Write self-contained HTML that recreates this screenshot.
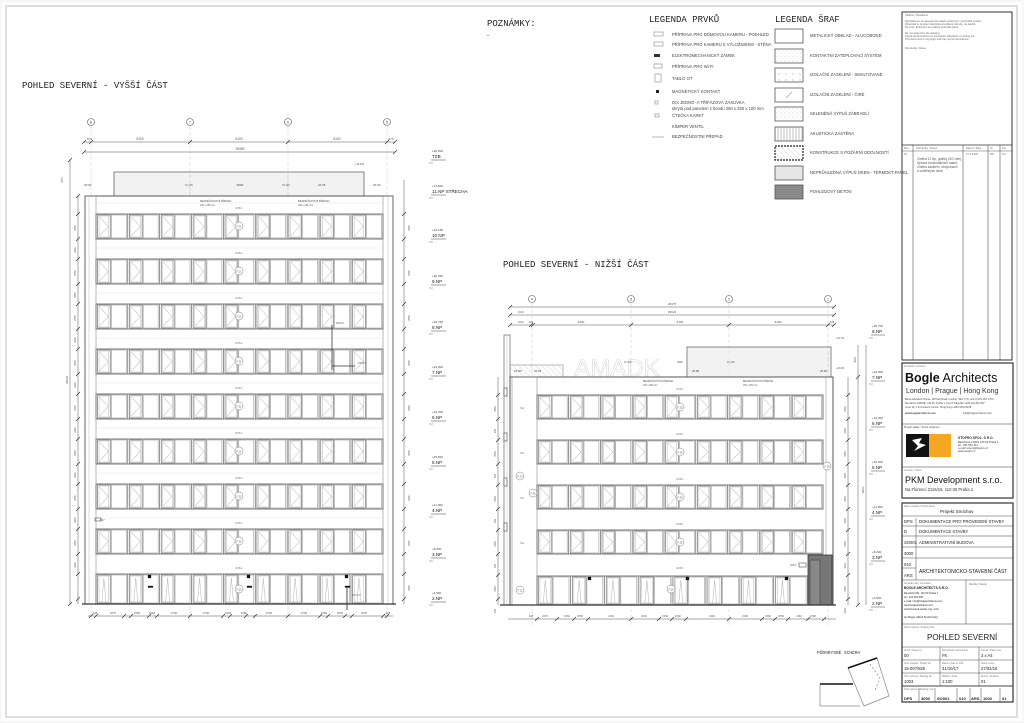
<!DOCTYPE html>
<html><head><meta charset="utf-8">
<style>
html,body{margin:0;padding:0;background:#fff;}
svg{display:block;font-family:"Liberation Sans",sans-serif;}
.t{font-family:"Liberation Mono","DejaVu Sans Mono",monospace;}
</style></head>
<body>
<svg id="s" width="1024" height="723" viewBox="0 0 1024 723" xmlns="http://www.w3.org/2000/svg">
<rect x="0" y="0" width="1024" height="723" fill="#fff"/>
<rect x="6" y="6" width="1011" height="711" fill="none" stroke="#ddd" stroke-width="2"/>
<rect x="1" y="1" width="1022" height="721" fill="none" stroke="#eee" stroke-width="1"/>

<text x="22" y="88" font-size="9" class="t" fill="#222">POHLED SEVERNÍ - VYŠŠÍ ČÁST</text>
<text x="503" y="267" font-size="9" class="t" fill="#222">POHLED SEVERNÍ - NIŽŠÍ ČÁST</text>
<text x="487" y="26" font-size="9" class="t" fill="#222">POZNÁMKY:</text>
<text x="487" y="37" font-size="6" fill="#333">-</text>

<text x="649" y="22" font-size="9" class="t" fill="#222">LEGENDA PRVKŮ</text>
<g font-size="4.2" fill="#444">
<text x="672" y="36">PŘÍPRAVA PRO DÓMOVOU KAMERU - PODHLED</text>
<text x="672" y="46">PŘÍPRAVA PRO KAMERU S VÝLOŽNÍKEM - STĚNA</text>
<text x="672" y="57">ELEKTROMECHANICKÝ ZÁMEK</text>
<text x="672" y="68">PŘÍPRAVA PRO Wi-Fi</text>
<text x="672" y="80">TABLO OT</text>
<text x="672" y="93">MAGNETICKÝ KONTAKT</text>
<text x="672" y="104">DIX JEDNO- A TŘÍFÁZOVÁ ZÁSUVKA</text>
<text x="672" y="110">skrytá pod panelem z bondu 250 x 250 x 100 mm</text>
<text x="672" y="117">ČTEČKA KARET</text>
<text x="672" y="128">KÍMPER VENTIL</text>
<text x="672" y="138">BEZPEČNOSTNÍ PŘEPAD</text>
</g>
<g fill="none" stroke="#999" stroke-width="0.7">
<rect x="654" y="32" width="9" height="4"/><rect x="654" y="42" width="9" height="4"/>
<rect x="654" y="64" width="8" height="4"/><rect x="655" y="74" width="6" height="8"/>
<rect x="655" y="101" width="3" height="3"/><rect x="655" y="114" width="4" height="3"/>
<line x1="652" y1="137" x2="664" y2="137"/>
</g>
<rect x="654" y="54" width="6" height="3" fill="#333"/>
<rect x="656" y="90" width="3" height="3" fill="#222"/>

<text x="775" y="22" font-size="9" class="t" fill="#222">LEGENDA ŠRAF</text>
<defs>
<pattern id="dots" width="4" height="4" patternUnits="userSpaceOnUse"><circle cx="1" cy="1" r="0.4" fill="#999"/><circle cx="3" cy="3" r="0.3" fill="#aaa"/></pattern>
<pattern id="dots2" width="7" height="6" patternUnits="userSpaceOnUse"><circle cx="2" cy="2" r="0.5" fill="#777"/></pattern>
<pattern id="vl" width="3" height="3" patternUnits="userSpaceOnUse"><line x1="1" y1="0" x2="1" y2="3" stroke="#999" stroke-width="0.6"/></pattern>
<pattern id="diag" width="4" height="4" patternUnits="userSpaceOnUse" patternTransform="rotate(-45)"><line x1="0" y1="0" x2="0" y2="4" stroke="#bbb" stroke-width="0.6"/></pattern>
<pattern id="rv" width="2" height="2" patternUnits="userSpaceOnUse"><line x1="1" y1="0" x2="1" y2="2" stroke="#ccc" stroke-width="0.5"/></pattern>
</defs>
<g stroke="#555" stroke-width="0.8">
<rect x="775" y="29" width="28" height="14" fill="#fff"/>
<rect x="775" y="49" width="28" height="14" fill="url(#dots)"/>
<rect x="775" y="68" width="28" height="14" fill="url(#dots2)"/>
<rect x="775" y="88" width="28" height="14" fill="#fff"/>
<rect x="775" y="107" width="28" height="14" fill="url(#dots)"/>
<rect x="775" y="127" width="28" height="14" fill="url(#vl)"/>
<rect x="775" y="146" width="28" height="14" fill="url(#diag)" stroke-dasharray="2,1" stroke-width="1.2" stroke="#222"/>
<rect x="775" y="166" width="28" height="14" fill="#e6e6e6"/>
<rect x="775" y="185" width="28" height="14" fill="#8a8a8a"/>
</g>
<line x1="786" y1="98" x2="792" y2="92" stroke="#999" stroke-width="0.6"/>
<g font-size="4.2" fill="#444">
<text x="810" y="37">METALICKÝ OBKLAD - ALUCOBOND</text>
<text x="810" y="57">KONTAKTNÍ ZATEPLOVACÍ SYSTÉM</text>
<text x="810" y="76">IZOLAČNÍ ZASKLENÍ - SMALTOVANÉ</text>
<text x="810" y="96">IZOLAČNÍ ZASKLENÍ - ČIRÉ</text>
<text x="810" y="115">SKLENĚNÁ VÝPLŇ ZÁBRADLÍ</text>
<text x="810" y="135">AKUSTICKÁ ZÁSTĚNA</text>
<text x="810" y="154">KONSTRUKCE S POŽÁRNÍ ODOLNOSTÍ</text>
<text x="810" y="174">NEPRŮHLEDNÁ VÝPLŇ OKEN - TERMOKT PANEL</text>
<text x="810" y="193">POHLEDOVÝ BETON</text>
</g>

<g stroke="#333" fill="none">
<rect x="902" y="12" width="110" height="348" stroke-width="1"/>
<line x1="902" y1="145" x2="1012" y2="145" stroke-width="0.7"/>
<line x1="913" y1="145" x2="913" y2="360" stroke-width="0.5"/>
<line x1="963" y1="145" x2="963" y2="360" stroke-width="0.5"/>
<line x1="988" y1="145" x2="988" y2="360" stroke-width="0.5"/>
<line x1="1000" y1="145" x2="1000" y2="360" stroke-width="0.5"/>
<line x1="902" y1="151" x2="1012" y2="151" stroke-width="0.4"/>
</g>
<g font-size="2.6" fill="#666">
<text x="905" y="16">Vědomí / Disclaimer</text>
<text x="905" y="22">Nepřebírá se za nesprávnost údajů uvedených v technické zprávě</text>
<text x="905" y="25">Zhotovitel je povinen zkontrolovat veškeré rozměry na stavbě</text>
<text x="905" y="28">Ne exist. dokument se vztahují autorská práva</text>
<text x="905" y="34">Do not scale from the drawing.</text>
<text x="905" y="37">Check all dimensions on site before fabrication or setting out.</text>
<text x="905" y="40">This document is copyright and may not be reproduced.</text>
<text x="905" y="49">Poznámky / Notes</text>
<text x="904" y="149">Rev.</text><text x="916" y="149">Poznámky / Notes</text><text x="966" y="149">Datum / Date</text><text x="990" y="149">Kr.</text><text x="1002" y="149">Kor.</text>
<text x="904" y="155">01</text><text x="966" y="155">27.2.2018</text><text x="990" y="155">DS</text><text x="1002" y="155">FH</text>
</g>
<g font-size="3.2" fill="#555">
<text x="917" y="160">Změna 11 Np, grafiky (SG relé),</text>
<text x="917" y="164">Úprava horizontálních rastrů,</text>
<text x="917" y="168">Změna zasklení, strojovnách</text>
<text x="917" y="172">a vstřeňných částí</text>
</g>

<g stroke="#333" fill="none">
<rect x="902" y="363" width="111" height="135" stroke-width="1.2"/>
<line x1="902" y1="424" x2="1013" y2="424" stroke-width="0.6"/>
<line x1="902" y1="467" x2="1013" y2="467" stroke-width="0.6"/>
<rect x="902" y="503" width="111" height="199" stroke-width="1.2"/>
</g>
<text x="904" y="367" font-size="2.5" fill="#777">Architekt / Architect</text>
<text x="905" y="382" font-size="12.5" fill="#111"><tspan font-weight="bold">Bogle</tspan> Architects</text>
<text x="906" y="393" font-size="7" fill="#333">London | Prague | Hong Kong</text>
<g font-size="2.5" fill="#444">
<text x="905" y="400">Baron Elizabeth House, 28 Park Road, London, SE1 7YQ    +44 (0) 203 007 1700</text>
<text x="905" y="404">Revoluční 1082/8b, 110 00, Praha 1, Czech Republic    +420 224 810 897</text>
<text x="905" y="408">Level 19, 3 Int Finance Centre, Hong Kong    +852 2251 8238</text>
<text x="905" y="414" font-weight="bold">www.boglearchitects.com</text><text x="963" y="414">info@boglearchitects.com</text>
<text x="904" y="428">Projekt statiky / Struct. Engineer</text>
</g>
<rect x="906" y="434" width="23" height="23" fill="#111"/>
<rect x="929" y="434" width="22" height="23" fill="#f5a623"/>
<path d="M912 440 l10 -2 l-3 5 l7 2 l-12 6 l4 -5 z" fill="#fff"/>
<g font-size="2.7" fill="#333">
<text x="958" y="439" font-weight="bold" font-size="3.3">STOPRO SPOL. S R.O.</text>
<text x="958" y="443">Bartoňova 2730/1 150 00 Praha 5</text>
<text x="958" y="446">tel.: 251 561 411</text>
<text x="958" y="449">e-mail: stopro@stopro.cz</text>
<text x="958" y="452">www.stopro.cz</text>
<text x="904" y="471" font-size="2.5" fill="#777">Investor / Client</text>
</g>
<text x="905" y="483" font-size="9" fill="#111">PKM Development s.r.o.</text>
<text x="905" y="491" font-size="4.2" fill="#333">Na Florenci 2116/15, 110 00 Praha 1</text>

<g stroke="#444" stroke-width="0.5" fill="none">
<line x1="902" y1="516" x2="1013" y2="516"/>
<line x1="902" y1="526" x2="1013" y2="526"/>
<line x1="902" y1="536" x2="1013" y2="536"/>
<line x1="902" y1="547" x2="1013" y2="547"/>
<line x1="902" y1="558" x2="1013" y2="558"/>
<line x1="902" y1="568" x2="916" y2="568"/>
<line x1="902" y1="580" x2="1013" y2="580"/>
<line x1="966" y1="580" x2="966" y2="624"/>
<line x1="902" y1="624" x2="1013" y2="624"/>
<line x1="902" y1="647" x2="1013" y2="647"/>
<line x1="902" y1="660" x2="1013" y2="660"/>
<line x1="902" y1="673" x2="1013" y2="673"/>
<line x1="902" y1="686" x2="1013" y2="686" stroke-width="1"/>
<line x1="916" y1="518" x2="916" y2="580"/>
<line x1="940" y1="647" x2="940" y2="686"/>
<line x1="979" y1="647" x2="979" y2="686"/>
<line x1="919" y1="688" x2="919" y2="702"/><line x1="935" y1="688" x2="935" y2="702"/>
<line x1="957" y1="688" x2="957" y2="702"/><line x1="970" y1="688" x2="970" y2="702"/>
<line x1="981" y1="688" x2="981" y2="702"/><line x1="1000" y1="688" x2="1000" y2="702"/>
</g>
<g font-size="4.2" fill="#222">
<text x="940" y="513" font-size="4.6">Projekt Smíchov</text>
<text x="904" y="523">DPS</text><text x="919" y="523">DOKUMENTACE PRO PROVEDENÍ STAVBY</text>
<text x="904" y="533">D</text><text x="919" y="533">DOKUMENTACE STAVBY</text>
<text x="904" y="544">SO001</text><text x="919" y="544">ADMINISTRATIVNÍ BUDOVA</text>
<text x="904" y="555">3000</text>
<text x="904" y="566">010</text>
<text x="904" y="577">ARS</text>
<text x="919" y="573" font-size="5">ARCHITEKTONICKO-STAVEBNÍ ČÁST</text>
<text x="904" y="589" font-size="3.3" font-weight="bold">BOGLE ARCHITECTS S.R.O.</text>
<text x="904" y="594" font-size="2.6">Revoluční 8b, 110 00 Praha 1</text>
<text x="904" y="598" font-size="2.6">tel.: 224 810 897</text>
<text x="904" y="602" font-size="2.6">e-mail: info@boglearchitects.com</text>
<text x="904" y="606" font-size="2.6">www.boglearchitects.com</text>
<text x="904" y="610" font-size="2.6">Autorizovaná osoba: Ing. arch.</text>
<text x="904" y="618" font-size="2.6">Ian Bogle, Mikoš Smichovský</text>
<text x="969" y="585" font-size="2.5" fill="#666">Razítko / Stamp</text>
<text x="927" y="640" font-size="8">POHLED SEVERNÍ</text>
<text x="904" y="657">00</text><text x="942" y="657">FK</text><text x="981" y="657">3  x A4</text>
<text x="904" y="670">15-007/825</text><text x="942" y="670">31/10/17</text><text x="981" y="670">27/02/18</text>
<text x="904" y="683">1003</text><text x="942" y="683">1:100</text><text x="981" y="683">01</text>
<g font-weight="bold" font-size="4">
<text x="904" y="700">DPS</text><text x="921" y="700">3000</text><text x="937" y="700">SO001</text><text x="959" y="700">010</text><text x="971" y="700">ARS</text><text x="983" y="700">1003</text><text x="1002" y="700">01</text>
</g>
</g>
<g font-size="2.3" fill="#777">
<text x="904" y="507">Název projektu / Project Name</text>
<text x="904" y="584">Generální tabl. Consultant</text>
<text x="904" y="628">Název výkresu / Drawing Title</text>
<text x="904" y="651">Kreslil / Drawn by</text><text x="942" y="651">Kontroloval / Approved by</text><text x="981" y="651">Formát / Paper size</text>
<text x="904" y="664">Číslo projektu / Project No.</text><text x="942" y="664">Datum / Date of 1/00</text><text x="981" y="664">Datum revize</text>
<text x="904" y="677">Číslo výkresu / Drawing No.</text><text x="942" y="677">Měřítko / Scale</text><text x="981" y="677">Revize / Revision</text>
<text x="904" y="690">Číslo výkresu / Drawing code</text>
</g>

<text x="817" y="654" font-size="4.5" class="t" fill="#333">PŮDORYSNÉ SCHÉMA</text>
<g fill="none" stroke="#888" stroke-width="0.7">
<path d="M820 684 L853 684 M820 684 L820 706 L860 706"/>
<path d="M848 668 L877 658 L889 696 L864 706 L848 668"/>
<path d="M870 664 L880 678 L875 690" stroke-dasharray="2,2"/>
</g>
<line x1="820" y1="684" x2="853" y2="684" stroke="#111" stroke-width="1.5"/>
<line x1="848" y1="668" x2="877" y2="658" stroke="#111" stroke-width="1.5"/>

<g id="draw"></g>
</svg>
<script>
(function(){
var NS="http://www.w3.org/2000/svg", g=document.getElementById('draw');
function el(n,a,txt){var e=document.createElementNS(NS,n);for(var k in a)e.setAttribute(k,a[k]);if(txt!==undefined)e.textContent=txt;g.appendChild(e);return e;}
function L(x1,y1,x2,y2,c,w,d){var a={x1:x1,y1:y1,x2:x2,y2:y2,stroke:c||'#555','stroke-width':w||0.6};if(d)a['stroke-dasharray']=d;return el('line',a);}
function R(x,y,w,h,f,c,sw){return el('rect',{x:x,y:y,width:w,height:h,fill:f||'none',stroke:c||'#555','stroke-width':sw||0.6});}
function T(x,y,s,size,col,anchor,rot){var a={x:x,y:y,'font-size':size||3,fill:col||'#555'};if(anchor)a['text-anchor']=anchor;if(rot)a.transform='rotate('+rot+' '+x+' '+y+')';return el('text',a,s);}
function tick(x,y){L(x-2,y+2,x+2,y-2,'#333',0.7);}

function band(x0,x1,y0,y1,n,ground){
  R(x0,y0,x1-x0,y1-y0,'#fff','#777',1);
  var sp=(x1-x0)/n;
  for(var i=0;i<n;i++){
    var ux=x0+i*sp+1.5;
    var ow=sp*0.4, fw=sp*0.47;
    R(ux,y0+1,ow,y1-y0-2,'none','#777',0.7);
    R(ux+1.5,y0+2,ow-3,y1-y0-4,'none','#999',0.35);
    if(!ground){
      el('polyline',{points:(ux+2)+','+(y0+3)+' '+(ux+ow-2)+','+((y0+y1)/2)+' '+(ux+2)+','+(y1-3),fill:'none',stroke:'#999','stroke-width':0.45});
    } else {
      el('polyline',{points:(ux+ow/2-2)+','+(y1-2)+' '+(ux+ow/2)+','+(y0+4)+' '+(ux+ow/2+2)+','+(y1-2),fill:'none',stroke:'#aaa','stroke-width':0.45});
    }
    R(ux+ow+1,y0+1,fw,y1-y0-2,'none','#888',0.5);
    L(ux+ow+1+fw+1.5,y0,ux+ow+1+fw+1.5,y1,'#777',0.8);
  }
}

var ax=[91,190,288,387], an=['8','7','6','5'];
for(var i=0;i<4;i++){
  el('circle',{cx:ax[i],cy:122,r:3.5,fill:'#fff',stroke:'#555','stroke-width':0.6});
  T(ax[i],123.3,an[i],3.5,'#333','middle');
  L(ax[i],126,ax[i],620,'#bbb',0.4,'4,2');
}
L(84,142,395,142,'#555',0.5); L(84,152,395,152,'#555',0.5);
[84,91,190,288,387,395].forEach(function(x){tick(x,142);});
tick(84,152);tick(395,152);
T(87,140,'575',3);T(140,140,'8100',3.2,'#555','middle');T(239,140,'8100',3.2,'#555','middle');T(337,140,'8100',3.2,'#555','middle');T(391,140,'575',3,'#555','middle');
T(240,150,'25459',3.2,'#555','middle');
R(114,172,250,24,'url(#rv)','#555',0.7);
T(355,165,'+43,100',2.5);T(240,186,'9500',3,'#444','middle');
T(84,186,'AT.03',3,'#444');T(373,186,'AT.03',3,'#444');T(318,186,'AT.05',3,'#444');T(185,186,'15,125',2.5);T(282,186,'15,125',2.5);
R(85,196,308,408,'#fff','#555',1);
R(85,196,11,408,'none','#777',0.5);R(383,196,10,408,'none','#777',0.5);
L(89,196,89,604,'#aaa',0.4);L(388,196,388,604,'#aaa',0.4);
T(200,202,'BEZPEČNOSTNÍ PŘEPAD',2.6);T(200,206,'150 x 250  mm',2.4);
T(298,202,'BEZPEČNOSTNÍ PŘEPAD',2.6);T(298,206,'150 x 250  mm',2.4);
for(var k=0;k<8;k++){
  var y=214+45*k;
  band(96,383,y,y+25,9,false);
  el('circle',{cx:239,cy:y+12,r:4,fill:'#fff',stroke:'#777','stroke-width':0.5});
  T(239,y+13.3,'F.21',2.6,'#555','middle');
  T(239,y-5,'KZS.1',2.6,'#666','middle');
  L(96,y-11,383,y-11,'#ddd',0.4);
}
band(96,383,574,604,9,true);
T(239,569,'KZS.1',2.6,'#666','middle');
el('circle',{cx:239,cy:589,r:4,fill:'#fff',stroke:'#777','stroke-width':0.5});T(239,590.3,'F.20',2.6,'#555','middle');
[148,247,345].forEach(function(x){R(x,575,3,3,'#111','#111',0.3);R(x,586,5,1.5,'#111','#111',0.3);});
L(347,588,347,610,'#222',0.8);T(352,596,'DST.1.P',2.4);
L(82,604,396,604,'#333',1.2);
T(100,521,'R07',2.5);R(95,518,6,3);
L(332,325,332,370,'#333',0.8);L(332,366,355,366,'#333',0.8);T(336,324,'DST.10',2.4);T(358,364,'DST.16',2.4);
L(70,160,70,604,'#555',0.5);L(78,196,78,604,'#555',0.5);
for(var k=0;k<9;k++){var y=214+45*k;tick(78,y);tick(78,y+25);}
tick(70,160);tick(70,604);tick(78,196);
T(68,380,'36825',3,'#555','middle',-90);T(63,180,'1675',2.5,'#555','middle',-90);
for(var k=0;k<8;k++){var y=214+45*k;T(76,y+14,'2550',2.5,'#555','middle',-90);T(76,y+36,'1600',2.5,'#555','middle',-90);}
L(404,180,404,604,'#555',0.5);
for(var k=0;k<9;k++){var y=214+45*k;tick(404,y);tick(404,y+25);T(410,y+14,'2550',2.5,'#555','middle',-90);}
var lv=[[158,'+40,500','TZB'],[193,'+37,800','11.NP STŘECHA'],[237,'+34,150','10.NP'],[283,'+30,450','9.NP'],[329,'+26,750','8.NP'],[374,'+23,000','7.NP'],[419,'+19,300','6.NP'],[464,'+15,600','5.NP'],[512,'+11,900','4.NP'],[556,'+8,200','3.NP'],[600,'+4,500','2.NP']];
lv.forEach(function(l){T(432,l[0]-6,l[1],3,'#444');T(432,l[0],l[2],4.6,'#222');L(431,l[0]+2,446,l[0]+2,'#444',0.5);L(429,l[0]+5,433,l[0]+5,'#444',0.4);});
L(88,616,393,616,'#555',0.5);
var bd=[[95,'425'],[113,'2275'],[137,'1560'],[152,'1560'],[174,'2700'],[206,'2700'],[228,'1560'],[244,'1560'],[269,'2700'],[304,'2700'],[324,'1560'],[340,'1560'],[364,'2275'],[388,'425']];
bd.forEach(function(b){T(b[0],614,b[1],2.8,'#555','middle');});
[91,96,124,131,149,157,190,223,230,246,255,288,320,328,345,352,383,387].forEach(function(x){tick(x,616);});

var bx=[532,631,729,828], bn=['4','3','2','1'];
for(var i=0;i<4;i++){
  el('circle',{cx:bx[i],cy:299,r:3.5,fill:'#fff',stroke:'#555','stroke-width':0.6});
  T(bx[i],300.3,bn[i],3.5,'#333','middle');
  L(bx[i],303,bx[i],625,'#bbb',0.4,'4,2');
}
L(510,307,834,307,'#555',0.5);L(510,315,834,315,'#555',0.5);L(510,325,834,325,'#555',0.5);
T(672,305,'26475',3,'#555','middle');T(672,313,'25023',3,'#555','middle');
T(581,323,'8100',3,'#555','middle');T(680,323,'8100',3,'#555','middle');T(778,323,'8100',3,'#555','middle');
T(518,313,'1610',2.5);T(518,323,'1610',2.5);T(529,323,'225',2.5);T(830,323,'448',2.5);
[510,531,533,631,729,828,834].forEach(function(x){tick(x,325);});tick(510,315);tick(834,315);tick(510,307);tick(834,307);
R(687,347,144,30,'url(#rv)','#555',0.7);
R(510,365,53,12,'url(#diag)','#777',0.5);
el('text',{x:617,y:376,'font-size':24,fill:'none',stroke:'#d8d8d8','stroke-width':0.6,'text-anchor':'middle'},'AMADK');
T(514,372,'AT.02*',2.8,'#333');T(534,372,'AT.03',2.8,'#333');T(692,372,'AT.05',2.8,'#333');T(820,372,'AT.03',2.8,'#333');
T(624,363,'15,125',2.5);T(727,363,'15,125',2.5);T(677,363,'3500',2.6);T(836,339,'+25,703',2.3);T(836,369,'+23,003',2.3);
R(504,335,6,270,'#fff','#666',0.7);L(507,335,507,605,'#aaa',0.4);
R(510,377,323,228,'#fff','#555',1);
R(512,377,25,228,'none','#777',0.5);
L(826,377,826,605,'#888',0.5);
T(643,382,'BEZPEČNOSTNÍ PŘEPAD',2.5);T(643,386,'150 x 250  mm',2.3);
T(743,382,'BEZPEČNOSTNÍ PŘEPAD',2.5);T(743,386,'150 x 250  mm',2.3);
for(var k=0;k<4;k++){
  var y=395+45*k;
  band(537,823,y,y+24,9,false);
  el('circle',{cx:680,cy:y+12,r:4,fill:'#fff',stroke:'#777','stroke-width':0.5});
  T(680,y+13.3,'F.25',2.6,'#555','middle');
  T(680,y-5,'KZS.1',2.6,'#666','middle');
  T(520,y+14,'SG',3,'#777');
  R(504,y-7,3,8,'#fff','#444',0.6);
}
T(680,569,'KZS.1',2.6,'#666','middle');
band(537,808,576,605,8,true);
R(808,555,24,50,'#777','#333',0.8);R(810,560,10,45,'#888','#333',0.5);
el('circle',{cx:520,cy:476,r:4,fill:'#fff',stroke:'#777','stroke-width':0.5});T(520,477.3,'F.23',2.6,'#555','middle');
el('circle',{cx:533,cy:493,r:4,fill:'#fff',stroke:'#777','stroke-width':0.5});T(533,494.3,'F.26',2.6,'#555','middle');
el('circle',{cx:827,cy:466,r:4,fill:'#fff',stroke:'#777','stroke-width':0.5});T(827,467.3,'F.26',2.6,'#555','middle');
el('circle',{cx:520,cy:590,r:4,fill:'#fff',stroke:'#777','stroke-width':0.5});T(520,591.3,'F.22',2.6,'#555','middle');
el('circle',{cx:671,cy:589,r:4,fill:'#fff',stroke:'#777','stroke-width':0.5});T(671,590.3,'F.24',2.6,'#555','middle');
[588,686,785].forEach(function(x){R(x,577,3,3,'#111','#111',0.3);});
R(799,563,7,4);T(790,566,'KZS.2',2.3);
L(500,605,836,605,'#333',1.2);
L(848,377,848,605,'#555',0.5);L(858,345,858,605,'#555',0.5);L(866,345,866,605,'#555',0.5);
for(var k=0;k<5;k++){var y=395+45*k;tick(848,y);tick(848,y+24);T(846,y+14,'2550',2.4,'#555','middle',-90);T(846,y+36,'1600',2.4,'#555','middle',-90);}
tick(858,377);tick(858,605);T(856,360,'3500',2.4,'#555','middle',-90);T(864,490,'18610',2.5,'#555','middle',-90);
L(498,377,498,605,'#555',0.5);
for(var k=0;k<5;k++){var y=395+45*k;tick(498,y);tick(498,y+24);T(496,y+14,'2550',2.4,'#555','middle',-90);T(496,y+36,'250',2.4,'#555','middle',-90);}
var lv2=[[333,'+25,700','8.NP'],[379,'+23,000','7.NP'],[425,'+19,300','6.NP'],[469,'+15,600','5.NP'],[514,'+11,900','4.NP'],[559,'+8,200','3.NP'],[605,'+4,500','2.NP']];
lv2.forEach(function(l){T(872,l[0]-6,l[1],3,'#444');T(872,l[0],l[2],4.6,'#222');L(871,l[0]+2,885,l[0]+2,'#444',0.5);L(869,l[0]+5,873,l[0]+5,'#444',0.4);});
L(508,619,836,619,'#555',0.5);
var bd2=[[531,'425'],[545,'2275'],[567,'1560'],[580,'1558'],[611,'2100'],[644,'2100'],[665,'1560'],[678,'1560'],[712,'2100'],[745,'2100'],[768,'1560'],[781,'1560'],[799,'1160'],[813,'1500']];
bd2.forEach(function(b){T(b[0],617,b[1],2.6,'#555','middle');});
[537,557,574,588,631,659,672,686,729,762,775,788,808,824].forEach(function(x){tick(x,619);});
})();
</script>
</body></html>
